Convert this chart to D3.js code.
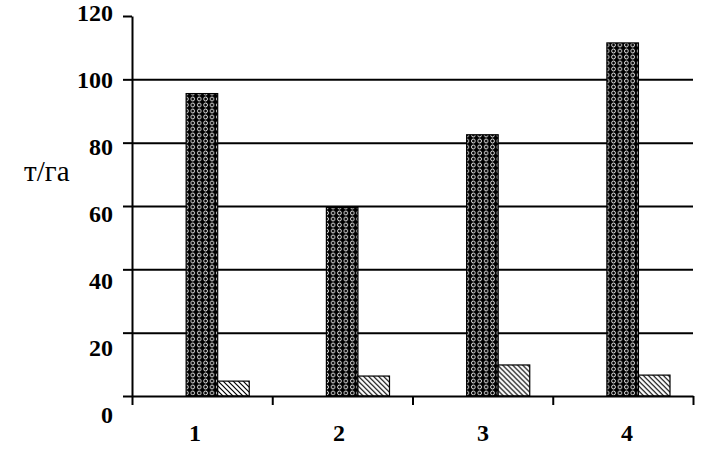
<!DOCTYPE html>
<html>
<head>
<meta charset="utf-8">
<script src="https://cdn.jsdelivr.net/npm/d3@7"></script>
<style>
    body { margin: 0; background: #fff; }
    text { font-family: "Liberation Serif", "Times New Roman", serif; }
</style>
</head>
<body>
<div id="chart"></div>
<script>
    // data
    const categories = ['1', '2', '3', '4']
    const seriesNames = ['dark', 'hatched']
    const darkValues = [95.5, 59.5, 82.5, 111.5]
    const hatchedValues = [4.7, 6.3, 9.8, 6.6]
    const yTicks = [0, 20, 40, 60, 80, 100, 120]
    const gridTicks = [20, 40, 60, 80, 100]
    const unitLabel = 'т/га'

    const width = 728
    const height = 473

    const svg = d3.select('#chart')
        .append('svg')
        .attr('width', width)
        .attr('height', height)

    svg.append('rect')
        .attr('width', width)
        .attr('height', height)
        .attr('fill', '#fff')

    ////////////////////////////////////
    ////////////// patterns ////////////
    ////////////////////////////////////
    const defs = svg.append('defs')

    const dots = defs.append('pattern')
        .attr('id', 'dots')
        .attr('patternUnits', 'userSpaceOnUse')
        .attr('width', 6.4)
        .attr('height', 6)
    dots.append('rect').attr('width', 6.4).attr('height', 6).attr('fill', '#000')
    dots.append('ellipse')
        .attr('cx', 3.2).attr('cy', 3)
        .attr('rx', 1.8).attr('ry', 2)
        .attr('fill', 'none')
        .attr('stroke', '#fff')
        .attr('stroke-width', 0.9)

    const hatch = defs.append('pattern')
        .attr('id', 'hatch')
        .attr('patternUnits', 'userSpaceOnUse')
        .attr('width', 5)
        .attr('height', 5)
    hatch.append('rect').attr('width', 5).attr('height', 5).attr('fill', '#fff')
    hatch.append('path')
        .attr('d', 'M0,0 L5,5 M-1,4 L1,6 M4,-1 L6,1')
        .attr('stroke', '#000')
        .attr('stroke-width', 1.2)

    ////////////////////////////////////
    ////////////// scales //////////////
    ////////////////////////////////////
    const plotLeft = 132, plotRight = 693, plotTop = 16, plotBottom = 396

    const y = d3.scaleLinear().domain([0, 120]).range([plotBottom, plotTop])
    // labels in the scan drift slightly from their ticks
    const labelY = d3.scaleLinear().domain([0, 120]).range([415, 13])

    const x = d3.scaleBand().domain(categories).range([plotLeft, plotRight]).padding(0)
    const inner = d3.scaleBand().domain(seriesNames)
        .range([x.bandwidth() * 0.386, x.bandwidth() * 0.836])
    const labelX = d3.scaleLinear().domain([0, categories.length - 1]).range([195, 627])
    const edges = d3.scaleLinear().domain([0, categories.length]).range([plotLeft, plotRight])

    ////////////////////////////////////
    /////////////// grid ///////////////
    ////////////////////////////////////
    svg.append('g')
        .attr('class', 'grid')
        .attr('transform', `translate(${plotLeft},0)`)
        .call(d3.axisLeft(y).tickValues(gridTicks).tickSize(-(plotRight - plotLeft)).tickFormat(''))
        .call(g => g.select('.domain').remove())
        .selectAll('line')
        .attr('stroke', '#000')
        .attr('stroke-width', 2)

    ////////////////////////////////////
    /////////////// bars ///////////////
    ////////////////////////////////////
    const rows = categories.map((c, i) => ({ cat: c, dark: darkValues[i], hatched: hatchedValues[i] }))

    const groups = svg.selectAll('.cat')
        .data(rows)
        .join('g')
        .attr('class', 'cat')
        .attr('transform', d => `translate(${x(d.cat)},0)`)

    groups.selectAll('rect')
        .data(d => seriesNames.map(s => ({ s, v: d[s] })))
        .join('rect')
        .attr('x', d => inner(d.s))
        .attr('width', inner.bandwidth())
        .attr('y', d => y(d.v))
        .attr('height', d => y(0) - y(d.v))
        .attr('fill', d => d.s == 'dark' ? 'url(#dots)' : 'url(#hatch)')
        .attr('stroke', '#000')
        .attr('stroke-width', 1.2)

    ////////////////////////////////////
    /////////////// axes ///////////////
    ////////////////////////////////////
    const yAxis = svg.append('g')
        .attr('transform', `translate(${plotLeft},0)`)
        .call(d3.axisLeft(y).tickValues(yTicks).tickSize(9).tickSizeOuter(0))

    yAxis.selectAll('line, path').attr('stroke', '#000').attr('stroke-width', 2)
    yAxis.selectAll('text')
        .attr('x', -19)
        .attr('y', d => labelY(d) - y(d))
        .attr('fill', '#000')
        .style('font-family', '"Liberation Serif", serif')
        .style('font-weight', 'bold')
        .style('font-size', '24px')

    const xAxis = svg.append('g')
        .attr('transform', `translate(0,${plotBottom})`)
        .call(d3.axisBottom(edges).tickValues(d3.range(categories.length + 1)).tickSize(9).tickSizeOuter(0).tickFormat(''))

    xAxis.selectAll('line, path').attr('stroke', '#000').attr('stroke-width', 2)

    svg.selectAll('.xlabel')
        .data(categories)
        .join('text')
        .attr('class', 'xlabel')
        .attr('x', (d, i) => labelX(i))
        .attr('y', 441)
        .attr('text-anchor', 'middle')
        .attr('fill', '#000')
        .style('font-weight', 'bold')
        .style('font-size', '24px')
        .text(d => d)

    svg.append('text')
        .attr('x', 24)
        .attr('y', 181)
        .attr('fill', '#000')
        .style('font-size', '29px')
        .text(unitLabel)
</script>
</body>
</html>
